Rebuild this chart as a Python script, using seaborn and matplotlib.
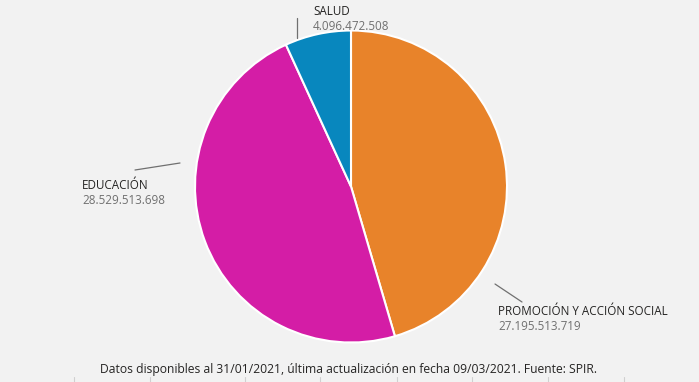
import matplotlib
matplotlib.use('Agg')
import matplotlib.pyplot as plt
import seaborn as sns

categories = ['PROMOCIÓN Y ACCIÓN SOCIAL', 'EDUCACIÓN', 'SALUD']
values = [27195513719, 28529513698, 4096472508]
value_labels = ['27.195.513.719', '28.529.513.698', '4.096.472.508']
colors = ['#E8832A', '#D41DA6', '#0887BE']
footer = 'Datos disponibles al 31/01/2021, última actualización en fecha 09/03/2021. Fuente: SPIR.'

sns.set_style('white')
plt.rcParams['font.family'] = ['Open Sans', 'DejaVu Sans']

bg = '#f2f2f2'
fig = plt.figure(figsize=(6.99, 3.82), dpi=100, facecolor=bg)
ax = fig.add_axes([0, 0, 1, 1])
ax.set_facecolor(bg)

ax.pie(values, colors=colors, startangle=90, counterclock=False,
       center=(351, 195.5), radius=156,
       wedgeprops={'edgecolor': 'white', 'linewidth': 1.5})
ax.set_xlim(0, 699)
ax.set_ylim(0, 382)
ax.axis('off')

# labels with leader lines (pixel coords, y up)
label_pos = [(498, 77), (82, 203), (313, 377)]
leaders = [((495, 98), (522, 80)), ((135, 212), (180, 219)), ((297, 364), (297, 344))]
for cat, lab, (x, y), (p0, p1) in zip(categories, value_labels, label_pos, leaders):
    ax.plot([p0[0], p1[0]], [p0[1], p1[1]], color='#707070', lw=0.9)
    ax.text(x, y, cat, fontsize=8.4, color='#252423', va='top', ha='left')
    ax.text(x, y - 15, lab, fontsize=8.4, color='#707070', va='top', ha='left')

ax.text(349, 13, footer, fontsize=8.7, color='#252423', ha='center', va='center')

for tx in [74, 150, 245, 320, 397, 472, 548, 624]:
    ax.plot([tx, tx], [0, 5], color='#d0d0d0', lw=0.8)

fig.savefig('out.png', dpi=100, facecolor=bg)
